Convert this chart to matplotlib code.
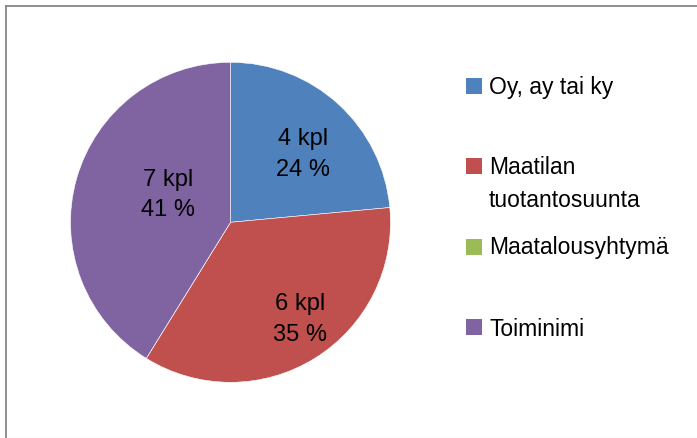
import matplotlib
matplotlib.use("Agg")
import numpy as np
import matplotlib.pyplot as plt
from matplotlib.patches import Rectangle
from matplotlib.lines import Line2D

plt.rcParams['font.family'] = ['Liberation Sans', 'DejaVu Sans']

# data
categories = ["Oy, ay tai ky", "Maatilan\ntuotantosuunta", "Maatalousyhtymä", "Toiminimi"]
counts = [4, 6, 0, 7]
percents = [24, 35, 0, 41]
colors = ["#4F81BD", "#C0504D", "#9BBB59", "#8064A2"]

W, H = 697, 439
fig = plt.figure(figsize=(W / 100, H / 100), dpi=100)

# pie axes: centre (230.5, 223.3) px, radius 160 px
cx, cy, r = 230.5, 223.3, 160
ax = fig.add_axes([(cx - r) / W, (H - cy - r) / H, 2 * r / W, 2 * r / H])
ax.pie(counts, colors=colors, startangle=90, counterclock=False,
       wedgeprops=dict(edgecolor="white", linewidth=0.4))
ax.set_xlim(-1, 1)
ax.set_ylim(-1, 1)
ax.set_aspect("equal")
ax.axis("off")

# label placement (centre of the two-line block, pie data units)
label_xy = {0: (0.453, 0.443), 1: (0.434, -0.591), 3: (-0.392, 0.189)}
for i, xy in label_xy.items():
    ax.text(xy[0], xy[1] + 0.046, "%d kpl" % counts[i], ha="center", va="baseline",
            fontsize=17, color="black")
    ax.text(xy[0], xy[1] - 0.146, "%d %%" % percents[i], ha="center", va="baseline",
            fontsize=17, color="black")

# legend drawn by hand (Excel style spacing)
sq_top = [79, 159, 240, 320]
base = [94, 174.5, 254, 336]
for i, lab in enumerate(categories):
    fig.patches.append(Rectangle((466 / W, 1 - (sq_top[i] + 15.5) / H), 15.5 / W, 15.5 / H,
                                 transform=fig.transFigure, facecolor=colors[i],
                                 edgecolor="none"))
    lines = lab.split("\n")
    for j, ln in enumerate(lines):
        fig.text(489 / W, 1 - (base[i] + 32.5 * j) / H, ln, ha="left", va="baseline",
                 fontsize=16.5, color="black")

# chart border (top and left visible)
fig.add_artist(Line2D([5.5 / W, 1], [1 - 7 / H, 1 - 7 / H], transform=fig.transFigure,
                      color="#868686", linewidth=1.3))
fig.add_artist(Line2D([5.5 / W, 5.5 / W], [1 - 7 / H, 0], transform=fig.transFigure,
                      color="#868686", linewidth=1.3))
fig.add_artist(Line2D([5.5 / W, 1], [0.5 / H, 0.5 / H], transform=fig.transFigure,
                      color="#e8e8e8", linewidth=0.8))

fig.savefig("out.png", dpi=100)
